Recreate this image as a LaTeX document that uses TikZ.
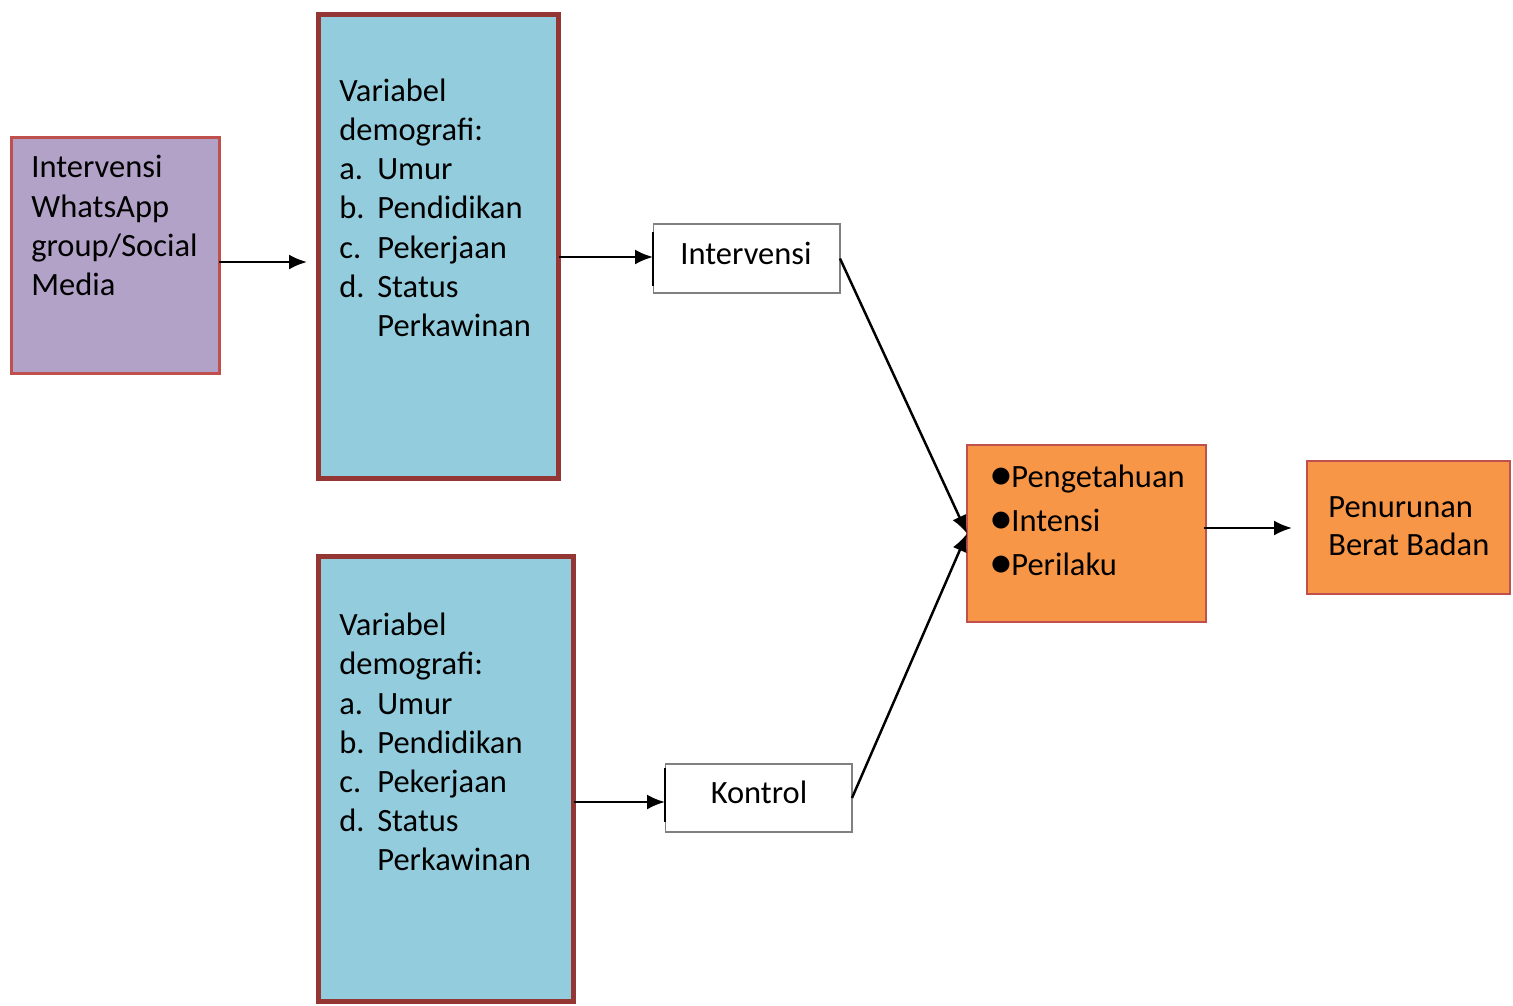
\documentclass[tikz,border=0pt]{standalone}
\usepackage{fontspec}
\setmainfont{Carlito}
\usetikzlibrary{arrows.meta}
\definecolor{ungu}{HTML}{B2A2C7}
\definecolor{biru}{HTML}{93CDDD}
\definecolor{oranye}{HTML}{F79646}
\definecolor{merahtua}{HTML}{943634}
\definecolor{merah}{HTML}{C0504D}
\newcommand{\butir}[2]{\makebox[0.76cm][l]{#1}#2}
\newcommand{\poin}[1]{\makebox[0.42cm][l]{\raisebox{-0.01cm}{\fontsize{24}{24}\selectfont$\bullet$}}#1}

\begin{document}
\begin{tikzpicture}[x=0.02cm,y=-0.02cm,
  kotak/.style={draw,inner sep=0,outer sep=0},
  teks/.style={anchor=base west,align=left,inner sep=0,font=\fontsize{18.5}{22.2}\selectfont},
  panah/.style={-{Latex[length=0.36cm,width=0.3cm]},line width=1.4pt}]
\useasboundingbox (0,0) rectangle (1513,1005);

% kotak-kotak
\node[kotak,fill=ungu,draw=merah,line width=1.2pt,minimum width=4.16cm,minimum height=4.72cm] (wa) at (115.5,255.5) {};
\node[kotak,fill=biru,draw=merahtua,line width=0.1cm,minimum width=4.82cm,minimum height=9.3cm] (demo1) at (438.5,246.5) {};
\node[kotak,fill=biru,draw=merahtua,line width=0.1cm,minimum width=5.12cm,minimum height=8.92cm] (demo2) at (446,779) {};
\node[kotak,draw=gray,line width=0.6pt,minimum width=3.74cm,minimum height=1.38cm] (int) at (746.5,258.5) {};
\node[kotak,draw=gray,line width=0.6pt,minimum width=3.74cm,minimum height=1.36cm] (kon) at (758.5,798) {};
\node[kotak,fill=oranye,draw=merah,line width=1.2pt,minimum width=4.78cm,minimum height=3.54cm] (pik) at (1086.5,533.5) {};
\node[kotak,fill=oranye,draw=merah,line width=1.2pt,minimum width=4.06cm,minimum height=2.66cm] (bb) at (1408.5,527.5) {};
\draw[line width=0.05cm] (int.north west) ++(0,8) -- ++(0,54);
\draw[line width=0.05cm] (kon.north west) ++(0,4) -- ++(0,54);

% teks (anchor pada baris terakhir)
\node[teks] (t-wa) at (31,295) {Intervensi\\WhatsApp\\group/Social\\Media};
\node[teks] (t-demo1) at (339,336) {Variabel\\demografi:\\\butir{a.}{Umur}\\\butir{b.}{Pendidikan}\\\butir{c.}{Pekerjaan}\\\butir{d.}{Status}\\\butir{}{Perkawinan}};
\node[teks] (t-demo2) at (339,870) {Variabel\\demografi:\\\butir{a.}{Umur}\\\butir{b.}{Pendidikan}\\\butir{c.}{Pekerjaan}\\\butir{d.}{Status}\\\butir{}{Perkawinan}};
\node[teks,anchor=base] (t-int) at (746,264) {Intervensi};
\node[teks,anchor=base] (t-kon) at (759,803) {Kontrol};
\node[teks,font=\fontsize{18.5}{25}\selectfont] (t-pik) at (990,575) {\poin{Pengetahuan}\\\poin{Intensi}\\\poin{Perilaku}};
\node[teks,font=\fontsize{18.5}{21.6}\selectfont] (t-bb) at (1328,555) {Penurunan\\Berat Badan};

% panah
\draw[panah,shorten >=0.22cm] (wa.east |- 0,262) -- (demo1.west |- 0,262);
\draw[panah] (demo1.east |- 0,257) -- (int.west |- 0,257);
\draw[panah] (demo2.east |- 0,802) -- (kon.west |- 0,802);
\draw[panah] (int.east) -- (pik.west);
\draw[panah] (kon.east) -- (pik.west);
\draw[panah,shorten <=-0.04cm,shorten >=0.3cm] (pik.east |- 0,528) -- (bb.west |- 0,528);
\end{tikzpicture}
\end{document}
